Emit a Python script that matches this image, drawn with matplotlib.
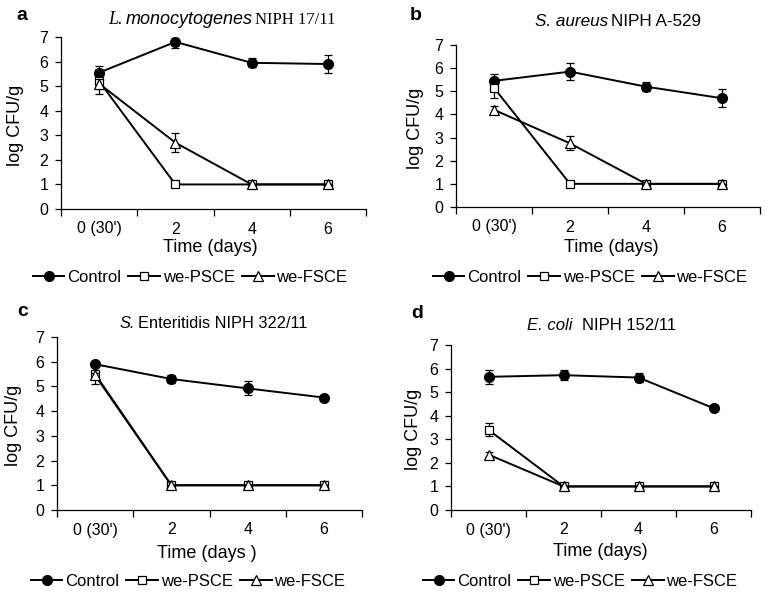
import matplotlib.pyplot as plt
from matplotlib.lines import Line2D
import numpy as np

plt.rcParams['font.family'] = ['Liberation Sans', 'DejaVu Sans']

days = ["0 (30')", "2", "4", "6"]

# panel a - L. monocytogenes
a_ctrl = [5.55, 6.8, 5.95, 5.9]
a_ctrl_err = [0.25, 0.25, 0.18, 0.35]
a_psce = [5.2, 1, 1, 1]
a_psce_err = [0.5, 0, 0, 0]
a_fsce = [5.1, 2.7, 1, 1]
a_fsce_err = [0.2, 0.38, 0, 0]

# panel b - S. aureus
b_ctrl = [5.45, 5.85, 5.2, 4.7]
b_ctrl_err = [0.3, 0.38, 0.2, 0.38]
b_psce = [5.15, 1, 1, 1]
b_psce_err = [0.42, 0, 0, 0]
b_fsce = [4.2, 2.75, 1, 1]
b_fsce_err = [0.15, 0.3, 0, 0]

# panel c - S. Enteritidis
c_ctrl = [5.9, 5.3, 4.92, 4.55]
c_ctrl_err = [0.1, 0.15, 0.28, 0.05]
c_psce = [5.5, 1, 1, 1]
c_psce_err = [0.4, 0, 0, 0]
c_fsce = [5.45, 1, 1, 1]
c_fsce_err = [0.1, 0, 0, 0]

# panel d - E. coli
d_ctrl = [5.65, 5.72, 5.62, 4.32]
d_ctrl_err = [0.3, 0.22, 0.2, 0.12]
d_psce = [3.4, 1, 1, 1]
d_psce_err = [0.28, 0, 0, 0]
d_fsce = [2.35, 1, 1, 1]
d_fsce_err = [0.1, 0, 0, 0]

W, H = 767, 592
fig = plt.figure(figsize=(W / 100, H / 100), dpi=100)


def fx(x):
    return x / W


def fy(y):
    return 1 - y / H


def panel(box, ctrl, ce, psce, pe, fsce, fe, xlabel, ylab_x, xlab_pos, leg_pos):
    x0, yt, x1, yb = box
    ax = fig.add_axes([fx(x0), fy(yb), (x1 - x0) / W, (yb - yt) / H])
    x = np.arange(len(days)) + 0.5
    kw = dict(color='black', lw=1.4, capsize=2.8, elinewidth=0.9, capthick=0.9)
    ax.errorbar(x, ctrl, yerr=ce, marker='o', ms=7, mfc='black', mec='black', zorder=3, **kw)
    ax.errorbar(x, psce, yerr=pe, marker='s', ms=6, mfc='white', mec='black', mew=0.9, zorder=4, **kw)
    ax.errorbar(x, fsce, yerr=fe, marker='^', ms=6.5, mfc='white', mec='black', mew=0.9, zorder=5, **kw)
    ax.set_xlim(0, 4)
    ax.set_ylim(0, 7)
    ax.set_yticks(range(8))
    ax.set_xticks(range(5))
    ax.set_xticklabels([])
    ax.set_xticks(x, minor=True)
    ax.set_xticklabels(days, minor=True)
    ax.tick_params(axis='x', which='minor', length=0, pad=9, labelsize=11.5)
    ax.tick_params(axis='x', which='major', length=5, direction='out', width=0.9)
    ax.tick_params(axis='y', length=4, direction='out', width=0.9, labelsize=11.5, pad=5)
    for s in ['top', 'right']:
        ax.spines[s].set_visible(False)
    for s in ['left', 'bottom']:
        ax.spines[s].set_linewidth(0.9)
    fig.text(fx(ylab_x), fy((yt + yb) / 2 + 2), 'log CFU/g', fontsize=13, rotation=90,
             ha='center', va='center')
    fig.text(fx(xlab_pos[0]), fy(xlab_pos[1]), xlabel, fontsize=13, ha='center', va='center')
    handles = [
        Line2D([], [], color='black', lw=1.4, marker='o', ms=7, mfc='black'),
        Line2D([], [], color='black', lw=1.4, marker='s', ms=6, mfc='white', mew=0.9),
        Line2D([], [], color='black', lw=1.4, marker='^', ms=6.5, mfc='white', mew=0.9),
    ]
    fig.legend(handles=handles, labels=['Control', 'we-PSCE', 'we-FSCE'], loc='center',
               bbox_to_anchor=(fx(leg_pos[0]), fy(leg_pos[1])), ncol=3, frameon=False,
               fontsize=12, handlelength=1.9, handletextpad=0.15, columnspacing=0.45,
               borderaxespad=0, borderpad=0)
    return ax


panel((61, 37, 366, 209), a_ctrl, a_ctrl_err, a_psce, a_psce_err, a_fsce, a_fsce_err,
      'Time (days)', 15, (210, 247), (190, 277))
panel((456, 45, 760, 207), b_ctrl, b_ctrl_err, b_psce, b_psce_err, b_fsce, b_fsce_err,
      'Time (days)', 416, (611, 247), (590, 277))
panel((57, 337, 362, 510), c_ctrl, c_ctrl_err, c_psce, c_psce_err, c_fsce, c_fsce_err,
      'Time (days )', 13, (207, 553), (188, 581))
panel((451, 345, 751, 510), d_ctrl, d_ctrl_err, d_psce, d_psce_err, d_fsce, d_fsce_err,
      'Time (days)', 413, (600, 551), (580, 581))

# panel letters
for lt, (px, py) in zip('abcd', [(16, 15), (410, 15), (17, 311), (411, 313)]):
    fig.text(fx(px), fy(py), lt, fontsize=14, fontweight='bold', va='center', ha='left')

# titles (italic genus + plain strain)
serif = ['Liberation Serif', 'DejaVu Serif']
fig.text(fx(108), fy(20), 'L.', fontsize=13, style='italic', family=serif, ha='left', va='center')
fig.text(fx(126), fy(20), 'monocytogenes', fontsize=13, style='italic', ha='left', va='center')
fig.text(fx(255), fy(20), 'NIPH 17/11', fontsize=12, family=serif, ha='left', va='center')
fig.text(fx(535), fy(21), 'S. aureus', fontsize=12.3, style='italic', ha='left', va='center')
fig.text(fx(611), fy(21), 'NIPH A-529', fontsize=12.3, ha='left', va='center')
fig.text(fx(120), fy(323), 'S.', fontsize=11.8, style='italic', ha='left', va='center')
fig.text(fx(138), fy(323), 'Enteritidis NIPH 322/11', fontsize=11.8, ha='left', va='center')
fig.text(fx(527), fy(325), 'E. coli', fontsize=12, style='italic', ha='left', va='center')
fig.text(fx(582), fy(325), 'NIPH 152/11', fontsize=12, ha='left', va='center')

fig.savefig('out.png', dpi=100)
